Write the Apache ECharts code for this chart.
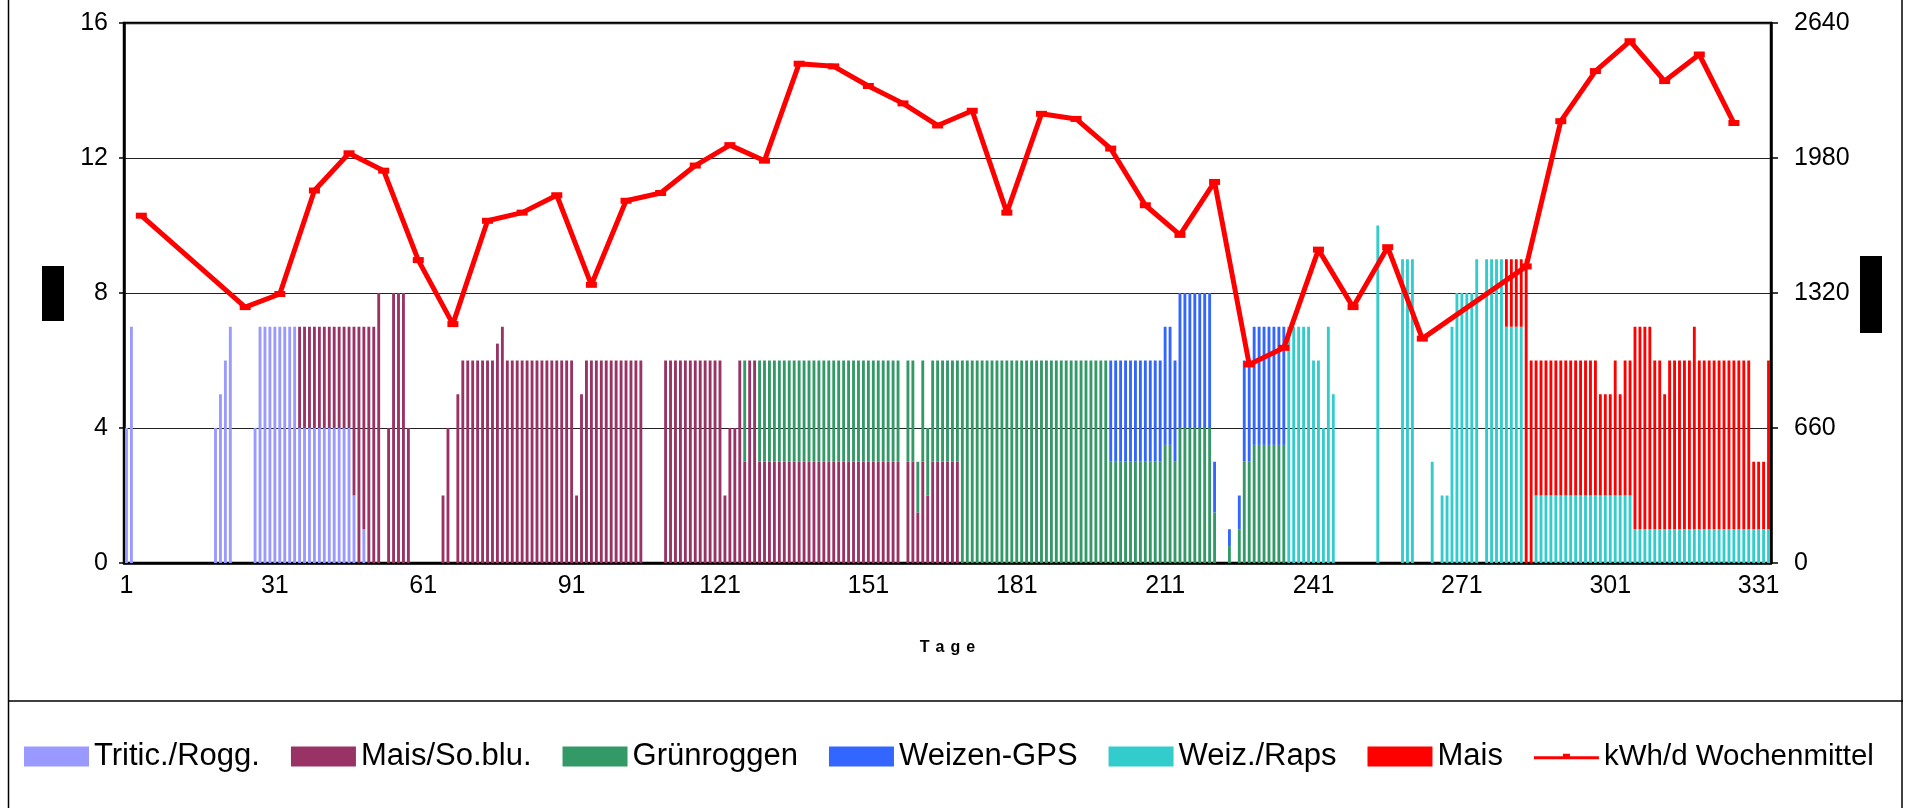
<!DOCTYPE html>
<html><head><meta charset="utf-8">
<script src="https://cdn.jsdelivr.net/npm/echarts@6/dist/echarts.min.js"></script>
<style>html,body{margin:0;padding:0;background:#fff}#c{width:1919px;height:808px}</style>
</head><body><div id="c"></div>
<script>
// ---- data (one value per day, rows of 30 days) ----
const dayCount = 333;
const days = Array.from({length: dayCount}, (_, i) => String(i + 1));
const labelEvery = 30;
const xAxisTitle = 'Tage';

const triticRogg = [
 4,7,0,0,0,0,0,0,0,0, 0,0,0,0,0,0,0,0,4,5, 6,7,0,0,0,0,4,7,7,7,
 7,7,7,7,7,4,4,4,4,4, 4,4,4,4,4,4,2,0,1,0, 0,0,0,0,0,0,0,0,0,0,
 0,0,0,0,0,0,0,0,0,0, 0,0,0,0,0,0,0,0,0,0, 0,0,0,0,0,0,0,0,0,0,
 0,0,0,0,0,0,0,0,0,0, 0,0,0,0,0,0,0,0,0,0, 0,0,0,0,0,0,0,0,0,0,
 0,0,0,0,0,0,0,0,0,0, 0,0,0,0,0,0,0,0,0,0, 0,0,0,0,0,0,0,0,0,0,
 0,0,0,0,0,0,0,0,0,0, 0,0,0,0,0,0,0,0,0,0, 0,0,0,0,0,0,0,0,0,0,
 0,0,0,0,0,0,0,0,0,0, 0,0,0,0,0,0,0,0,0,0, 0,0,0,0,0,0,0,0,0,0,
 0,0,0,0,0,0,0,0,0,0, 0,0,0,0,0,0,0,0,0,0, 0,0,0,0,0,0,0,0,0,0,
 0,0,0,0,0,0,0,0,0,0, 0,0,0,0,0,0,0,0,0,0, 0,0,0,0,0,0,0,0,0,0,
 0,0,0,0,0,0,0,0,0,0, 0,0,0,0,0,0,0,0,0,0, 0,0,0,0,0,0,0,0,0,0,
 0,0,0,0,0,0,0,0,0,0, 0,0,0,0,0,0,0,0,0,0, 0,0,0,0,0,0,0,0,0,0,
 0,0,0
];
const maisSoblu = [
 0,0,0,0,0,0,0,0,0,0, 0,0,0,0,0,0,0,0,0,0, 0,0,0,0,0,0,0,0,0,0,
 0,0,0,0,0,3,3,3,3,3, 3,3,3,3,3,3,5,7,6,7, 7,8,0,4,8,8,8,4,0,0,
 0,0,0,0,2,4,0,5,6,6, 6,6,6,6,6,6.5,7,6,6,6, 6,6,6,6,6,6,6,6,6,6,
 6,2,5,6,6,6,6,6,6,6, 6,6,6,6,6,0,0,0,0,6, 6,6,6,6,6,6,6,6,6,6,
 6,2,4,4,6,3,6,6,3,3, 3,3,3,3,3,3,3,3,3,3, 3,3,3,3,3,3,3,3,3,3,
 3,3,3,3,3,3,3,0,3,3, 1.5,3,2,3,3,3,3,3,3,0, 0,0,0,0,0,0,0,0,0,0,
 0,0,0,0,0,0,0,0,0,0, 0,0,0,0,0,0,0,0,0,0, 0,0,0,0,0,0,0,0,0,0,
 0,0,0,0,0,0,0,0,0,0, 0,0,0,0,0,0,0,0,0,0, 0,0,0,0,0,0,0,0,0,0,
 0,0,0,0,0,0,0,0,0,0, 0,0,0,0,0,0,0,0,0,0, 0,0,0,0,0,0,0,0,0,0,
 0,0,0,0,0,0,0,0,0,0, 0,0,0,0,0,0,0,0,0,0, 0,0,0,0,0,0,0,0,0,0,
 0,0,0,0,0,0,0,0,0,0, 0,0,0,0,0,0,0,0,0,0, 0,0,0,0,0,0,0,0,0,0,
 0,0,0
];
const gruenroggen = [
 0,0,0,0,0,0,0,0,0,0, 0,0,0,0,0,0,0,0,0,0, 0,0,0,0,0,0,0,0,0,0,
 0,0,0,0,0,0,0,0,0,0, 0,0,0,0,0,0,0,0,0,0, 0,0,0,0,0,0,0,0,0,0,
 0,0,0,0,0,0,0,0,0,0, 0,0,0,0,0,0,0,0,0,0, 0,0,0,0,0,0,0,0,0,0,
 0,0,0,0,0,0,0,0,0,0, 0,0,0,0,0,0,0,0,0,0, 0,0,0,0,0,0,0,0,0,0,
 0,0,0,0,0,3,0,0,3,3, 3,3,3,3,3,3,3,3,3,3, 3,3,3,3,3,3,3,3,3,3,
 3,3,3,3,3,3,3,0,3,3, 1.5,3,2,3,3,3,3,3,3,6, 6,6,6,6,6,6,6,6,6,6,
 6,6,6,6,6,6,6,6,6,6, 6,6,6,6,6,6,6,6,6,3, 3,3,3,3,3,3,3,3,3,3,
 3.5,3.5,3,4,4,4,4,4,4,4, 1.5,0,0,0.5,0,1,3,3,3.5,3.5, 3.5,3.5,3.5,3.5,3.5,0,0,0,0,0,
 0,0,0,0,0,0,0,0,0,0, 0,0,0,0,0,0,0,0,0,0, 0,0,0,0,0,0,0,0,0,0,
 0,0,0,0,0,0,0,0,0,0, 0,0,0,0,0,0,0,0,0,0, 0,0,0,0,0,0,0,0,0,0,
 0,0,0,0,0,0,0,0,0,0, 0,0,0,0,0,0,0,0,0,0, 0,0,0,0,0,0,0,0,0,0,
 0,0,0
];
const weizenGPS = [
 0,0,0,0,0,0,0,0,0,0, 0,0,0,0,0,0,0,0,0,0, 0,0,0,0,0,0,0,0,0,0,
 0,0,0,0,0,0,0,0,0,0, 0,0,0,0,0,0,0,0,0,0, 0,0,0,0,0,0,0,0,0,0,
 0,0,0,0,0,0,0,0,0,0, 0,0,0,0,0,0,0,0,0,0, 0,0,0,0,0,0,0,0,0,0,
 0,0,0,0,0,0,0,0,0,0, 0,0,0,0,0,0,0,0,0,0, 0,0,0,0,0,0,0,0,0,0,
 0,0,0,0,0,0,0,0,0,0, 0,0,0,0,0,0,0,0,0,0, 0,0,0,0,0,0,0,0,0,0,
 0,0,0,0,0,0,0,0,0,0, 0,0,0,0,0,0,0,0,0,0, 0,0,0,0,0,0,0,0,0,0,
 0,0,0,0,0,0,0,0,0,0, 0,0,0,0,0,0,0,0,0,3, 3,3,3,3,3,3,3,3,3,3,
 3.5,3.5,3,4,4,4,4,4,4,4, 1.5,0,0,0.5,0,1,3,3,3.5,3.5, 3.5,3.5,3.5,3.5,3.5,0,0,0,0,0,
 0,0,0,0,0,0,0,0,0,0, 0,0,0,0,0,0,0,0,0,0, 0,0,0,0,0,0,0,0,0,0,
 0,0,0,0,0,0,0,0,0,0, 0,0,0,0,0,0,0,0,0,0, 0,0,0,0,0,0,0,0,0,0,
 0,0,0,0,0,0,0,0,0,0, 0,0,0,0,0,0,0,0,0,0, 0,0,0,0,0,0,0,0,0,0,
 0,0,0
];
const weizRaps = [
 0,0,0,0,0,0,0,0,0,0, 0,0,0,0,0,0,0,0,0,0, 0,0,0,0,0,0,0,0,0,0,
 0,0,0,0,0,0,0,0,0,0, 0,0,0,0,0,0,0,0,0,0, 0,0,0,0,0,0,0,0,0,0,
 0,0,0,0,0,0,0,0,0,0, 0,0,0,0,0,0,0,0,0,0, 0,0,0,0,0,0,0,0,0,0,
 0,0,0,0,0,0,0,0,0,0, 0,0,0,0,0,0,0,0,0,0, 0,0,0,0,0,0,0,0,0,0,
 0,0,0,0,0,0,0,0,0,0, 0,0,0,0,0,0,0,0,0,0, 0,0,0,0,0,0,0,0,0,0,
 0,0,0,0,0,0,0,0,0,0, 0,0,0,0,0,0,0,0,0,0, 0,0,0,0,0,0,0,0,0,0,
 0,0,0,0,0,0,0,0,0,0, 0,0,0,0,0,0,0,0,0,0, 0,0,0,0,0,0,0,0,0,0,
 0,0,0,0,0,0,0,0,0,0, 0,0,0,0,0,0,0,0,0,0, 0,0,0,0,0,7,7,7,7,7,
 6,6,4,7,5,0,0,0,0,0, 0,0,0,10,0,0,0,0,9,9, 9,0,0,0,3,0,2,2,7,8,
 8,8,8,9,0,9,9,9,9,7, 7,7,7,0,0,2,2,2,2,2, 2,2,2,2,2,2,2,2,2,2,
 2,2,2,2,2,1,1,1,1,1, 1,1,1,1,1,1,1,1,1,1, 1,1,1,1,1,1,1,1,1,1,
 1,1,1
];
const mais = [
 0,0,0,0,0,0,0,0,0,0, 0,0,0,0,0,0,0,0,0,0, 0,0,0,0,0,0,0,0,0,0,
 0,0,0,0,0,0,0,0,0,0, 0,0,0,0,0,0,0,0,0,0, 0,0,0,0,0,0,0,0,0,0,
 0,0,0,0,0,0,0,0,0,0, 0,0,0,0,0,0,0,0,0,0, 0,0,0,0,0,0,0,0,0,0,
 0,0,0,0,0,0,0,0,0,0, 0,0,0,0,0,0,0,0,0,0, 0,0,0,0,0,0,0,0,0,0,
 0,0,0,0,0,0,0,0,0,0, 0,0,0,0,0,0,0,0,0,0, 0,0,0,0,0,0,0,0,0,0,
 0,0,0,0,0,0,0,0,0,0, 0,0,0,0,0,0,0,0,0,0, 0,0,0,0,0,0,0,0,0,0,
 0,0,0,0,0,0,0,0,0,0, 0,0,0,0,0,0,0,0,0,0, 0,0,0,0,0,0,0,0,0,0,
 0,0,0,0,0,0,0,0,0,0, 0,0,0,0,0,0,0,0,0,0, 0,0,0,0,0,0,0,0,0,0,
 0,0,0,0,0,0,0,0,0,0, 0,0,0,0,0,0,0,0,0,0, 0,0,0,0,0,0,0,0,0,0,
 0,0,0,0,0,0,0,0,0,2, 2,2,2,9,6,4,4,4,4,4, 4,4,4,4,4,4,4,4,3,3,
 3,4,3,4,4,6,6,6,6,5, 5,4,5,5,5,5,5,6,5,5, 5,5,5,5,5,5,5,5,5,2,
 2,2,5
];
// weekly mean (kWh/d), right axis
const lineDays = [4,25,32,39,46,53,60,67,74,81,88,95,102,109,116,123,130,137,144,151,158,165,172,179,186,193,200,207,214,221,228,235,242,249,256,263,284,291,298,305,312,319,326];
const lineValues = [1698,1251,1315,1821,2003,1918,1481,1168,1673,1713,1798,1360,1771,1809,1943,2043,1967,2441,2428,2332,2247,2139,2211,1713,2196,2171,2026,1749,1604,1863,971,1052,1532,1251,1544,1097,1450,2160,2405,2551,2356,2486,2151];
const leftTicks = {min: 0, max: 16, interval: 4};
const rightTicks = {min: 0, max: 2640, interval: 660};

// ---- chart ----
const FONT = '"Liberation Sans", Arial, sans-serif';
const chart = echarts.init(document.getElementById('c'), null, {renderer: 'canvas'});
function bar(name, color, data) {
  return {name, type: 'bar', stack: 's', data, barCategoryGap: '42%',
    itemStyle: {color}, emphasis: {disabled: true}, animation: false};
}
const every = (i) => i % labelEvery === 0;
// spaced-out axis title (each letter its own rich segment)
const spacedTitle = xAxisTitle.split('').map(ch => '{l|' + ch + '}').join('');
chart.setOption({
  animation: false,
  textStyle: {fontFamily: FONT},
  grid: {left: 124, right: 148, top: 23, bottom: 245, show: true, borderColor: '#000', borderWidth: 2.5},
  xAxis: {
    type: 'category', data: days, boundaryGap: true,
    axisLine: {lineStyle: {color: '#000', width: 2.5}},
    axisTick: {interval: every, length: 8, lineStyle: {color: '#000', width: 1.5}},
    axisLabel: {interval: every, fontSize: 25, color: '#000', fontFamily: FONT, margin: 11},
    name: spacedTitle, nameLocation: 'middle', nameGap: 77,
    nameTextStyle: {fontSize: 16, fontWeight: 'bold', color: '#000', fontFamily: FONT,
      rich: {l: {fontSize: 16, fontWeight: 'bold', color: '#000', fontFamily: FONT, padding: [0, 3, 0, 3]}}},
    splitLine: {show: false}
  },
  yAxis: [
    {type: 'value', min: leftTicks.min, max: leftTicks.max, interval: leftTicks.interval,
     axisLine: {show: true, lineStyle: {color: '#000', width: 2.5}},
     axisTick: {show: true, length: 5, lineStyle: {color: '#000', width: 1.5}},
     axisLabel: {fontSize: 25, color: '#000', margin: 16, fontFamily: FONT},
     splitLine: {show: true, lineStyle: {color: '#222', width: 1.2}}},
    {type: 'value', position: 'right', min: rightTicks.min, max: rightTicks.max, interval: rightTicks.interval,
     axisLine: {show: true, lineStyle: {color: '#000', width: 2.5}},
     axisTick: {show: true, length: 7, lineStyle: {color: '#000', width: 1.5}},
     axisLabel: {fontSize: 25, color: '#000', margin: 23, fontFamily: FONT, formatter: (v) => String(v)},
     splitLine: {show: false}}
  ],
  legend: {
    left: 24, top: 741, itemWidth: 65, itemHeight: 20, itemGap: 31, padding: 0,
    textStyle: {fontSize: 31, color: '#000', fontFamily: FONT},
    data: [
      {name: 'Tritic./Rogg.', icon: 'rect'},
      {name: 'Mais/So.blu.', icon: 'rect'},
      {name: 'Grünroggen', icon: 'rect'},
      {name: 'Weizen-GPS', icon: 'rect'},
      {name: 'Weiz./Raps', icon: 'rect'},
      {name: 'Mais', icon: 'rect'},
      {name: 'kWh/d Wochenmittel', textStyle: {fontSize: 29.5},
       icon: 'path://M0,8.5 L65,8.5 L65,11.5 L0,11.5 Z M29,6 L36,6 L36,11.5 L29,11.5 Z'}
    ]
  },
  series: [
    bar('Tritic./Rogg.', '#9999FF', triticRogg),
    bar('Mais/So.blu.', '#993366', maisSoblu),
    bar('Grünroggen', '#339966', gruenroggen),
    bar('Weizen-GPS', '#3366FF', weizenGPS),
    bar('Weiz./Raps', '#33CCCC', weizRaps),
    bar('Mais', '#FF0000', mais),
    {name: 'kWh/d Wochenmittel', type: 'line', yAxisIndex: 1, z: 10,
     data: lineDays.map((d, i) => [d - 1, lineValues[i]]),
     symbol: 'rect', symbolSize: [11, 6], showAllSymbol: true,
     lineStyle: {color: '#FF0000', width: 5}, itemStyle: {color: '#FF0000'},
     emphasis: {disabled: true}}
  ],
  graphic: [
    {type: 'rect', shape: {x: 42, y: 266, width: 22, height: 55}, style: {fill: '#000'}},
    {type: 'rect', shape: {x: 1860, y: 256, width: 22, height: 77}, style: {fill: '#000'}},
    {type: 'line', shape: {x1: 8.5, y1: 0, x2: 8.5, y2: 808}, style: {stroke: '#000', lineWidth: 1.5}},
    {type: 'line', shape: {x1: 1902, y1: 0, x2: 1902, y2: 808}, style: {stroke: '#000', lineWidth: 1.5}},
    {type: 'line', shape: {x1: 8, y1: 701, x2: 1903, y2: 701}, style: {stroke: '#000', lineWidth: 1.5}}
  ]
});
</script></body></html>
